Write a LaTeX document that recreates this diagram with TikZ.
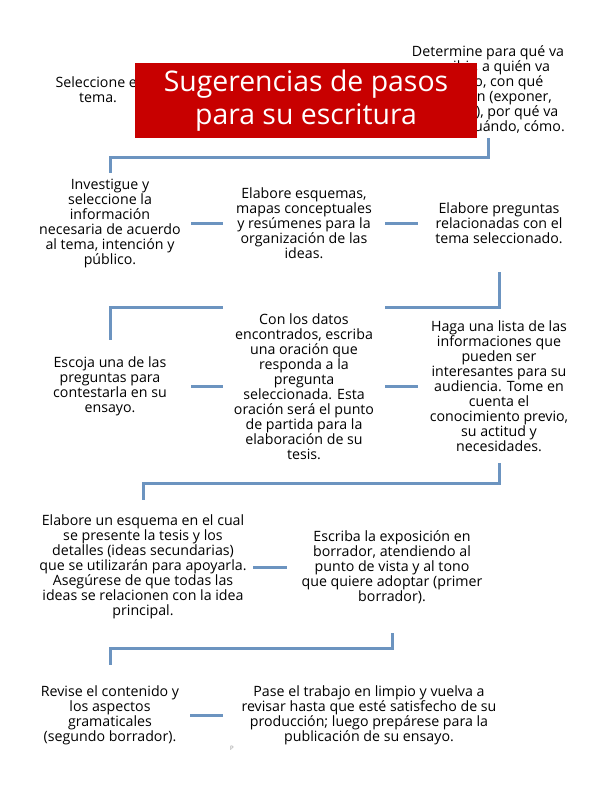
\documentclass[tikz,border=0pt]{standalone}
\usepackage{fontspec}
\setmainfont{Open Sans}

\pgfdeclarelayer{fondo}
\pgfsetlayers{fondo,main}

\definecolor{rojo}{RGB}{200,0,0}
\definecolor{azul}{RGB}{108,148,192}

\tikzset{
  paso/.style={align=center, inner sep=0pt, outer sep=0pt, font=\fontsize{14.2}{15}\selectfont},
  enlace/.style={draw=azul, line width=3pt},
  titulo/.style={fill=rojo, text=white, align=center, inner sep=0pt,
    minimum width=342pt, minimum height=75pt, font=\fontsize{28.4}{33}\selectfont}
}

\begin{document}
\begin{tikzpicture}[x=1pt,y=-1pt]
    \useasboundingbox (0,0) rectangle (612,792);

    % First row, half hidden by the title
    \node[paso] (seleccione) at (98,89.5) {Seleccione el\\tema.};
    \node[paso, minimum height=97pt] (determine) at (488,89.5)
      {Determine para qué va\\escribir, a quién va\\dirigido, con qué\\intención (exponer,\\informar), por qué va\\escribir, cuándo, cómo.};

    % Second row
    \node[paso, minimum width=162pt, minimum height=100pt] (investigue) at (110,223)
      {Investigue y\\seleccione la\\información\\necesaria de acuerdo\\al tema, intención y\\público.};
    \node[paso, minimum width=162pt, minimum height=100pt] (esquemas) at (304,223)
      {Elabore esquemas,\\mapas conceptuales\\y resúmenes para la\\organización de las\\ideas.};
    \node[paso, minimum width=162pt, minimum height=98pt] (preguntas) at (499,223)
      {Elabore preguntas\\relacionadas con el\\tema seleccionado.};

    % Third row
    \node[paso, minimum width=162pt, minimum height=93pt] (escoja) at (110,386.5)
      {Escoja una de las\\preguntas para\\contestarla en su\\ensayo.};
    \node[paso, fill=white, minimum width=162pt, minimum height=161pt] (datos) at (304,386.5)
      {Con los datos\\encontrados, escriba\\una oración que\\responda a la\\pregunta\\seleccionada. Esta\\oración será el punto\\de partida para la\\elaboración de su\\tesis.};
    \node[paso, minimum width=162pt, minimum height=153pt] (haga) at (499,386.5)
      {Haga una lista de las\\informaciones que\\pueden ser\\interesantes para su\\audiencia. Tome en\\cuenta el\\conocimiento previo,\\su actitud y\\necesidades.};

    % Fourth row
    \node[paso, minimum width=220pt, minimum height=134pt] (elabora) at (143,567)
      {Elabore un esquema en el cual\\se presente la tesis y los\\detalles (ideas secundarias)\\que se utilizarán para apoyarla.\\Asegúrese de que todas las\\ideas se relacionen con la idea\\principal.};
    \node[paso, minimum width=210pt, minimum height=132pt] (escriba) at (392,567)
      {Escriba la exposición en\\borrador, atendiendo al\\punto de vista y al tono\\que quiere adoptar (primer\\borrador).};

    % Last row
    \node[paso, minimum width=160pt, minimum height=101pt] (revise) at (110,715.5)
      {Revise el contenido y\\los aspectos\\gramaticales\\(segundo borrador).};
    \node[paso, minimum width=292pt, minimum height=101pt] (pase) at (369,715.5)
      {Pase el trabajo en limpio y vuelva a\\revisar hasta que esté satisfecho de su\\producción; luego prepárese para la\\publicación de su ensayo.};

    \node[font=\fontsize{6}{7}\selectfont, text=black!45, inner sep=0pt] (letra) at (232,748) {P};

    % Connectors, behind the nodes
    \begin{pgfonlayer}{fondo}
      \draw[enlace] (determine.south) -- ++(0,19) -| (investigue.north);
      \draw[enlace] (investigue.east) -- (esquemas.west);
      \draw[enlace] (esquemas.east) -- (preguntas.west);
      \draw[enlace] (preguntas.south) -- ++(0,35) -| (escoja.north);
      \draw[enlace] (escoja.east) -- (datos.west);
      \draw[enlace] (datos.east) -- (haga.west);
      \draw[enlace] (haga.south) -- ++(0,20) -| (elabora.north);
      \draw[enlace] (elabora.east) -- (escriba.west);
      \draw[enlace] (escriba.south) -- ++(0,15) -| (revise.north);
      \draw[enlace] (revise.east) -- (pase.west);
    \end{pgfonlayer}

    % Title on top
    \node[titulo] (titulo) at (306,100.5) {Sugerencias de pasos\\para su escritura};
\end{tikzpicture}
\end{document}
